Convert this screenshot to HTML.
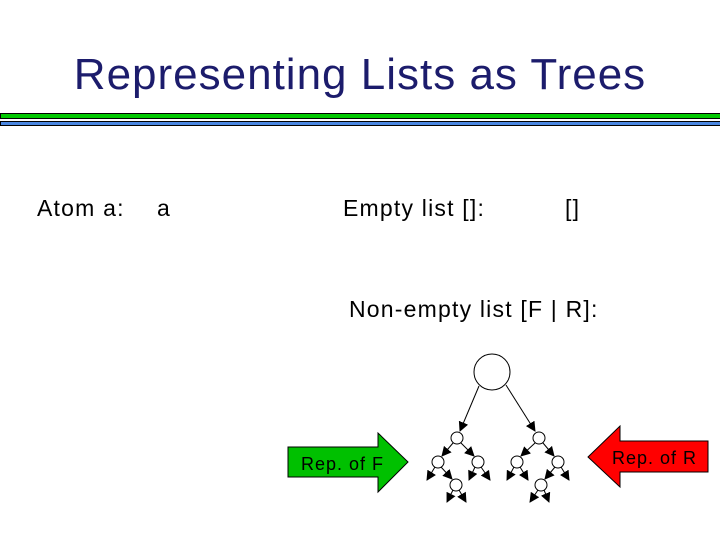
<!DOCTYPE html>
<html><head><style>
body{margin:0;width:720px;height:540px;background:#fff;position:relative;overflow:hidden;font-family:"Liberation Sans",sans-serif;}
.t{position:absolute;color:#000;font-size:23px;letter-spacing:1.2px;white-space:nowrap;}
</style></head><body>
<div style="position:absolute;left:0;width:720px;top:50px;text-align:center;font-size:44px;letter-spacing:1px;color:#1c1c6c;">Representing Lists as Trees</div>
<div style="position:absolute;left:0;top:113px;width:722px;height:4px;background:#00c800;border:1px solid #000;"></div>
<div style="position:absolute;left:0;top:121px;width:722px;height:3px;background:#4a86e0;border:1px solid #000;"></div>
<div class="t" style="left:37px;top:195px;">Atom a:</div>
<div class="t" style="left:157px;top:195px;">a</div>
<div class="t" style="left:343px;top:195px;">Empty list []:</div>
<div class="t" style="left:565px;top:195px;">[]</div>
<div class="t" style="left:349px;top:296px;">Non-empty list [F | R]:</div>
<svg width="720" height="540" style="position:absolute;left:0;top:0">
<defs><marker id="a" markerWidth="10" markerHeight="10" refX="9" refY="5" orient="auto" markerUnits="userSpaceOnUse"><path d="M0,0L10,5L0,10z" fill="#000"/></marker></defs>
<polygon points="288,447 378,447 378,433 408,462 378,492 378,477 288,477" fill="#00c000" stroke="#000"/>
<text x="301" y="470" font-size="18" letter-spacing="1" font-family="Liberation Sans">Rep. of F</text>
<polygon points="708,441 620,441 620,426 588,457 620,487 620,472 708,472" fill="#ff0000" stroke="#000"/>
<text x="612" y="464" font-size="18" letter-spacing="1" font-family="Liberation Sans">Rep. of R</text>
<g stroke="#000" fill="#fff" stroke-width="1">
<circle cx="492" cy="372" r="18"/>
<circle cx="457" cy="438" r="6"/><circle cx="539" cy="438" r="6"/>
<circle cx="438" cy="462" r="6"/><circle cx="478" cy="462" r="6"/>
<circle cx="456" cy="485" r="6"/>
<circle cx="517" cy="462" r="6"/><circle cx="558" cy="462" r="6"/>
<circle cx="541" cy="485" r="6"/>
</g>
<g stroke="#000" marker-end="url(#a)">
<line x1="479" y1="386" x2="460" y2="431"/>
<line x1="506" y1="385" x2="535" y2="431"/>
<line x1="453" y1="443" x2="442" y2="456"/>
<line x1="461" y1="443" x2="474" y2="456"/>
<line x1="535" y1="443" x2="521" y2="456"/>
<line x1="543" y1="443" x2="554" y2="456"/>
<line x1="435" y1="467" x2="427" y2="480"/>
<line x1="441" y1="467" x2="452" y2="479"/>
<line x1="475" y1="467" x2="469" y2="480"/>
<line x1="481" y1="467" x2="490" y2="480"/>
<line x1="453" y1="490" x2="447" y2="502"/>
<line x1="459" y1="490" x2="466" y2="502"/>
<line x1="514" y1="467" x2="507" y2="480"/>
<line x1="520" y1="467" x2="528" y2="480"/>
<line x1="555" y1="467" x2="545" y2="479"/>
<line x1="561" y1="467" x2="569" y2="480"/>
<line x1="538" y1="490" x2="530" y2="502"/>
<line x1="544" y1="490" x2="549" y2="502"/>
</g>
</svg>
</body></html>
